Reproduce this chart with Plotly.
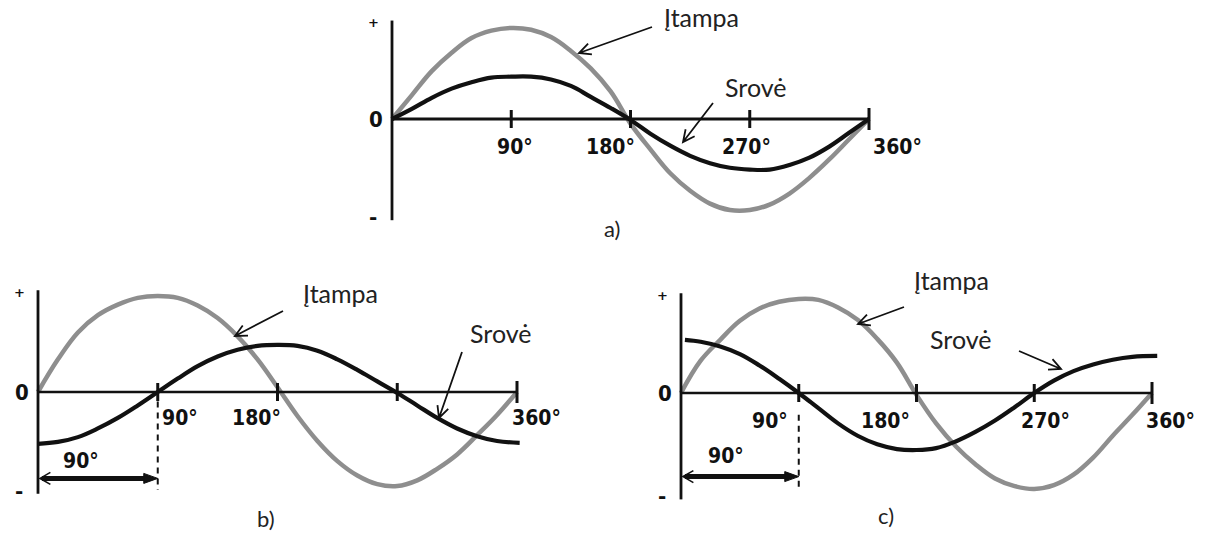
import math
import plotly.graph_objects as go

W, H = 1213, 533

# ---------------- data (angle in degrees, value relative to voltage peak) ----------------
# a) current in phase with voltage
a_volt_deg = [0, 15, 30, 45, 60, 75, 90, 105, 120, 135, 150, 165, 180, 195, 210, 225, 240,
              255, 270, 285, 300, 315, 330, 345, 360]
a_volt_val = [0, 0.26, 0.52, 0.72, 0.88, 0.96, 0.99, 0.97, 0.89, 0.74, 0.55, 0.30, -0.05,
              -0.33, -0.59, -0.78, -0.92, -0.99, -0.99, -0.93, -0.81, -0.64, -0.44, -0.22, 0]
a_curr_deg = [0, 15, 30, 45, 60, 75, 90, 105, 120, 135, 150, 165, 180, 195, 210, 225, 240,
              255, 270, 285, 300, 315, 330, 345, 360]
a_curr_val = [0, 0.11, 0.23, 0.33, 0.40, 0.45, 0.46, 0.46, 0.43, 0.36, 0.24, 0.12, -0.01,
              -0.16, -0.29, -0.40, -0.48, -0.53, -0.55, -0.55, -0.50, -0.42, -0.30, -0.15, 0]

# b) current lagging the voltage by 90 degrees
b_volt_deg = [0, 15, 30, 45, 60, 75, 90, 105, 120, 135, 150, 165, 180, 195, 210, 225, 240,
              255, 270, 285, 300, 315, 330, 345, 360]
b_volt_val = [0, 0.34, 0.62, 0.80, 0.91, 0.98, 1.0, 0.98, 0.90, 0.77, 0.58, 0.34, 0.05,
              -0.25, -0.51, -0.72, -0.87, -0.96, -0.98, -0.92, -0.80, -0.65, -0.45, -0.24, 0]
b_curr_deg = [0, 15, 30, 45, 60, 75, 90, 105, 120, 135, 150, 165, 180, 195, 210, 225, 240,
              255, 270, 285, 300, 315, 330, 345, 362]
b_curr_val = [-0.54, -0.52, -0.47, -0.38, -0.27, -0.14, 0.0, 0.14, 0.27, 0.37, 0.44, 0.48,
              0.49, 0.48, 0.43, 0.34, 0.23, 0.11, -0.01, -0.14, -0.27, -0.38, -0.46, -0.51,
              -0.53]

# c) current leading the voltage by 90 degrees
c_volt_deg = [0, 15, 30, 45, 60, 75, 90, 105, 120, 135, 150, 165, 180, 195, 210, 225, 240,
              255, 270, 285, 300, 315, 330, 345, 360]
c_volt_val = [0, 0.34, 0.56, 0.76, 0.89, 0.96, 0.99, 0.98, 0.90, 0.77, 0.57, 0.32, -0.02,
              -0.32, -0.56, -0.75, -0.90, -0.98, -1.01, -0.97, -0.86, -0.68, -0.45, -0.23, 0]
c_curr_deg = [3, 15, 30, 45, 60, 75, 90, 105, 120, 135, 150, 165, 180, 195, 210, 225, 240,
              255, 270, 285, 300, 315, 330, 345, 364]
c_curr_val = [0.56, 0.54, 0.49, 0.41, 0.29, 0.15, 0.0, -0.16, -0.32, -0.45, -0.54, -0.59,
              -0.60, -0.58, -0.51, -0.41, -0.29, -0.15, 0.0, 0.13, 0.23, 0.30, 0.35, 0.38, 0.39]

# axis tick positions and their labels
a_ticks = [90, 180, 270, 360]
a_tick_text = ["90°", "180°", "270°", "360°"]
b_ticks = [90, 180, 270, 360]
b_tick_text = ["90°", "180°", "", "360°"]
c_ticks = [90, 180, 270, 360]
c_tick_text = ["90°", "180°", "270°", "360°"]

voltage_name = "Įtampa"
current_name = "Srovė"
shift_text = "90°"

# ---------------- panel geometry (pixels) ----------------
panels = {
    "a": dict(x0=392, x360=869, y0=119, unit=92, box=(360, 960, 0, 240),
              ytop=1.07, ybot=-1.10, lw=3, ticklen=9,
              label_dx=[4, -20, -3, 28], label_dy=28),
    "b": dict(x0=38, x360=517, y0=392, unit=96, box=(0, 600, 250, 533),
              ytop=1.06, ybot=-1.06, lw=2.5, ticklen=9,
              label_dx=[22, -21, 0, 19], label_dy=26),
    "c": dict(x0=681, x360=1152, y0=393, unit=95, box=(620, 1213, 250, 533),
              ytop=1.05, ybot=-1.12, lw=2.5, ticklen=9,
              label_dx=[-29, -31, 11, 18], label_dy=28),
}


def to_px(p, deg, val):
    sx = (p["x360"] - p["x0"]) / 360.0
    return p["x0"] + deg * sx, p["y0"] - val * p["unit"]


def paper(px, py):
    return px / W, 1 - py / H


def P(x, y):
    u, v = paper(x, y)
    return f"{u:.5f},{v:.5f}"


def seg(x1, y1, x2, y2, width=2.0, color="#111", dash=None):
    a, b = paper(x1, y1)
    c, d = paper(x2, y2)
    line = dict(color=color, width=width)
    if dash:
        line["dash"] = dash
    return dict(type="line", xref="paper", yref="paper", x0=a, y0=b, x1=c, y1=d, line=line)


def open_arrow(tail, tip, head=13, ang=26, width=1.8, color="#111"):
    tx, ty = tail
    hx, hy = tip
    dx, dy = tx - hx, ty - hy
    n = math.hypot(dx, dy)
    ux, uy = dx / n, dy / n
    pts = []
    for s in (-1, 1):
        r = math.radians(ang * s)
        vx = ux * math.cos(r) - uy * math.sin(r)
        vy = ux * math.sin(r) + uy * math.cos(r)
        pts.append((hx + vx * head, hy + vy * head))
    path = f"M {P(tx, ty)} L {P(hx, hy)} M {P(*pts[0])} L {P(hx, hy)} L {P(*pts[1])}"
    return dict(type="path", xref="paper", yref="paper", path=path,
                line=dict(color=color, width=width))


def filled_head(tip, back, head=14, half=6, color="#111"):
    hx, hy = tip
    dx, dy = back[0] - hx, back[1] - hy
    n = math.hypot(dx, dy)
    ux, uy = dx / n, dy / n
    bx, by = hx + ux * head, hy + uy * head
    p1 = (bx - uy * half, by + ux * half)
    p2 = (bx + uy * half, by - ux * half)
    path = f"M {P(hx, hy)} L {P(*p1)} L {P(*p2)} Z"
    return dict(type="path", xref="paper", yref="paper", path=path,
                fillcolor=color, line=dict(color=color, width=1))


fig = go.Figure()
shapes = []
annotations = []

label_family = "DejaVu Sans Condensed, Liberation Sans Narrow, sans-serif"
label_font = dict(family=label_family, size=21, color="#111")
word_font = dict(family="Lato, Open Sans, sans-serif", size=25, color="#222")

series = {
    "a": (a_volt_deg, a_volt_val, a_curr_deg, a_curr_val, a_ticks, a_tick_text),
    "b": (b_volt_deg, b_volt_val, b_curr_deg, b_curr_val, b_ticks, b_tick_text),
    "c": (c_volt_deg, c_volt_val, c_curr_deg, c_curr_val, c_ticks, c_tick_text),
}

layout_axes = {}
for i, key in enumerate(["a", "b", "c"]):
    p = panels[key]
    vd, vv, cd, cv, ticks, tick_text = series[key]
    suffix = "" if i == 0 else str(i + 1)
    xa, ya = "x" + suffix, "y" + suffix

    L, R, T, B = p["box"]
    sx = (p["x360"] - p["x0"]) / 360.0
    layout_axes["xaxis" + suffix] = dict(
        domain=[L / W, R / W], range=[(L - p["x0"]) / sx, (R - p["x0"]) / sx],
        visible=False, anchor=ya, fixedrange=True)
    layout_axes["yaxis" + suffix] = dict(
        domain=[1 - B / H, 1 - T / H],
        range=[(p["y0"] - B) / p["unit"], (p["y0"] - T) / p["unit"]],
        visible=False, anchor=xa, fixedrange=True)

    # voltage (grey) and current (black)
    fig.add_trace(go.Scatter(x=vd, y=vv, xaxis=xa, yaxis=ya, mode="lines",
                             line=dict(color="#8e8e8e", width=4.5, shape="spline",
                                       smoothing=1.1),
                             hoverinfo="skip", name=voltage_name))
    fig.add_trace(go.Scatter(x=cd, y=cv, xaxis=xa, yaxis=ya, mode="lines",
                             line=dict(color="#111111", width=4.2, shape="spline",
                                       smoothing=1.1),
                             hoverinfo="skip", name=current_name))

    # axes
    ox, oy = to_px(p, 0, 0)
    _, ytop = to_px(p, 0, p["ytop"])
    _, ybot = to_px(p, 0, p["ybot"])
    shapes.append(seg(ox, ytop, ox, ybot, width=2.8))
    ex, _ = to_px(p, 360, 0)
    shapes.append(seg(ox, oy, ex, oy, width=p["lw"]))

    # ticks and their labels
    for j, (t, txt) in enumerate(zip(ticks, tick_text)):
        tx, ty = to_px(p, t, 0)
        tl = p["ticklen"] + (2 if t == 360 else 0)
        shapes.append(seg(tx, ty - tl, tx, ty + tl, width=3))
        if txt:
            annotations.append(dict(x=t, y=0, xref=xa, yref=ya, text=f"<b>{txt}</b>",
                                    showarrow=False, xshift=p["label_dx"][j],
                                    yshift=-p["label_dy"], font=label_font))

    # + / 0 / - marks on the vertical axis
    annotations.append(dict(x=0, y=0, xref=xa, yref=ya, text="<b>0</b>", showarrow=False,
                            xshift=-16, font=dict(family=label_family, size=22, color="#111")))
    annotations.append(dict(x=0, y=p["ytop"], xref=xa, yref=ya, text="<b>+</b>",
                            showarrow=False, xshift=-19, yshift=-2,
                            font=dict(family="DejaVu Sans", size=13, color="#111")))
    annotations.append(dict(x=0, y=p["ybot"], xref=xa, yref=ya, text="<b>-</b>",
                            showarrow=False, xshift=-19, yshift=3,
                            font=dict(family="DejaVu Sans", size=20, color="#111")))

# word labels and pointer arrows
words = [
    (voltage_name, (702, 17), (652, 27), (579, 53)),
    (current_name, (755, 87), (713, 103), (683, 142)),
    (voltage_name, (340, 293), (283, 311), (235, 336)),
    (current_name, (500, 333), (462, 352), (439, 418)),
    (voltage_name, (951, 280), (904, 307), (858, 324)),
    (current_name, (960, 339), (1019, 351), (1061, 369)),
]
for text, (lx, ly), tail, tip in words:
    u, v = paper(lx, ly)
    annotations.append(dict(x=u, y=v, xref="paper", yref="paper", text=text,
                            xanchor="center", yanchor="middle",
                            showarrow=False, font=word_font))
    shapes.append(open_arrow(tail, tip))

# 90 degree phase-shift markers in b) and c)
for key, yrow, ylab, lab_dx, dash_top in (("b", -0.90, -0.72, -17, -0.10),
                                          ("c", -0.88, -0.66, -14, -0.23)):
    p = panels[key]
    x_start, yy = to_px(p, 0, yrow)
    x_end, _ = to_px(p, 90, yrow)
    _, y_dash0 = to_px(p, 90, dash_top)
    _, y_dash1 = to_px(p, 90, -1.02)
    shapes.append(seg(x_end, y_dash0, x_end, y_dash1, width=2, dash="6px,5px"))
    shapes.append(seg(x_start + 4, yy, x_end - 12, yy, width=5))
    shapes.append(filled_head((x_end, yy), (x_start, yy), head=14, half=5))
    shapes.append(open_arrow((x_start + 20, yy), (x_start + 2, yy), head=12, ang=30, width=1.6))
    lx, ly = to_px(p, 45, ylab)
    u, v = paper(lx + lab_dx, ly)
    annotations.append(dict(x=u, y=v, xref="paper", yref="paper", text=f"<b>{shift_text}</b>",
                            xanchor="center", yanchor="middle",
                            showarrow=False, font=label_font))

# panel captions
for text, (cx, cy) in (("a)", (612, 228)), ("b)", (266, 518)), ("c)", (886, 515))):
    u, v = paper(cx, cy)
    annotations.append(dict(x=u, y=v, xref="paper", yref="paper", text=text,
                            xanchor="center", yanchor="middle",
                            showarrow=False, font=dict(family="Lato, sans-serif", size=22,
                                                       color="#222")))

fig.update_layout(
    width=W, height=H, margin=dict(l=0, r=0, t=0, b=0),
    paper_bgcolor="white", plot_bgcolor="white", showlegend=False,
    shapes=shapes, annotations=annotations, **layout_axes,
)

fig.write_html("out.html", config={"displayModeBar": False})
